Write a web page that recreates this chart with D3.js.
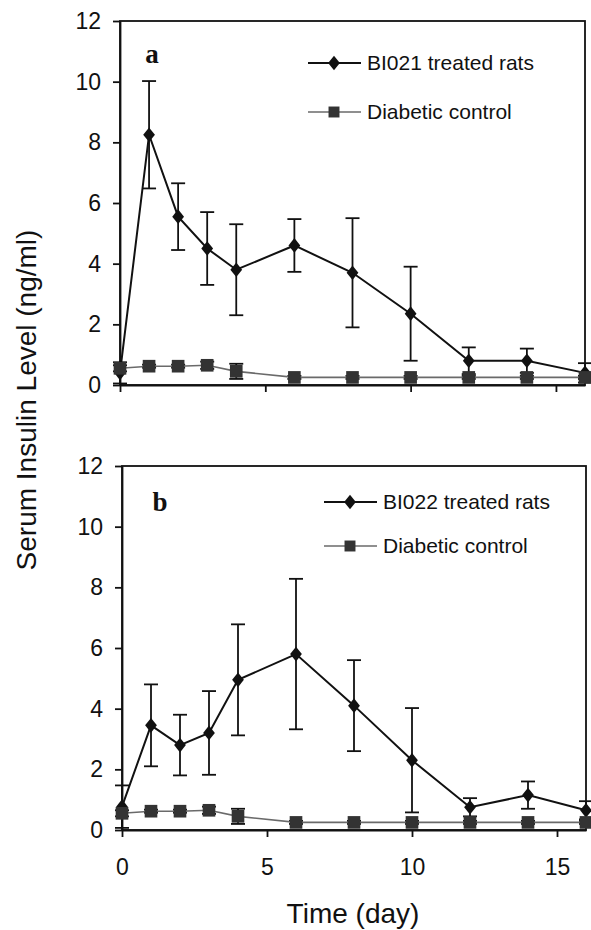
<!DOCTYPE html>
<meta charset="utf-8">
<style>
body { margin: 0; background: #fff; }
text { font-family: "Liberation Sans", Arial, sans-serif; fill: #111; }
.axis path, .axis line { stroke: #111; stroke-width: 1.8; }
.axis text { font-size: 23px; }
</style>
<head>
  <script src="https://d3js.org/d3.v7.min.js"></script>
</head>
<svg width="591" height="930"></svg>
<script>

// days sampled
var days = [0, 1, 2, 3, 4, 6, 8, 10, 12, 14, 16];

// panel a
var bi021Mean = [0.4, 8.25, 5.55, 4.5, 3.8, 4.6, 3.7, 2.35, 0.8, 0.8, 0.4];
var bi021Err  = [0.35, 1.77, 1.1, 1.2, 1.5, 0.87, 1.8, 1.55, 0.44, 0.4, 0.32];
var ctrlAMean = [0.55, 0.62, 0.62, 0.65, 0.45, 0.25, 0.25, 0.25, 0.25, 0.25, 0.25];
var ctrlAErr  = [0.1, 0.05, 0.05, 0.12, 0.25, 0.05, 0.05, 0.05, 0.05, 0.05, 0.05];

// panel b
var bi022Mean = [0.77, 3.45, 2.8, 3.2, 4.95, 5.8, 4.1, 2.3, 0.75, 1.15, 0.65];
var bi022Err  = [0.7, 1.35, 1.0, 1.38, 1.83, 2.48, 1.5, 1.72, 0.3, 0.45, 0.3];
var ctrlBMean = [0.55, 0.62, 0.62, 0.65, 0.45, 0.25, 0.25, 0.25, 0.25, 0.25, 0.25];
var ctrlBErr  = [0.1, 0.05, 0.05, 0.12, 0.25, 0.05, 0.05, 0.05, 0.05, 0.05, 0.05];

var yTicks = [0, 2, 4, 6, 8, 10, 12];
var xTicks = [0, 5, 10, 15];

var svg = d3.select("svg");

// diamond a bit wider than d3's default
var diamondType = {
  draw: function(ctx, size) {
    var h = Math.sqrt(size) * 0.6, w = h * 0.8;
    ctx.moveTo(0, -h); ctx.lineTo(w, 0); ctx.lineTo(0, h); ctx.lineTo(-w, 0); ctx.closePath();
  }
};

function panel(cfg) {
  var x = d3.scaleLinear().domain([0, 16]).range([cfg.left, cfg.right]);
  var y = d3.scaleLinear().domain([0, 12]).range([cfg.bottom, cfg.top]);

  var g = svg.append("g");

  g.append("rect")
      .attr("x", cfg.left).attr("y", cfg.top)
      .attr("width", cfg.right - cfg.left).attr("height", cfg.bottom - cfg.top)
      .attr("fill", "none").attr("stroke", "#111").attr("stroke-width", 1.8);

  g.append("g")
      .attr("class", "axis")
      .attr("transform", "translate(" + cfg.left + ",0)")
      .call(d3.axisLeft(y).tickValues(yTicks).tickSize(7).tickSizeOuter(0).tickPadding(12));

  var xa = d3.axisBottom(x).tickValues(xTicks).tickSize(7).tickSizeOuter(0).tickPadding(22);
  if (!cfg.xLabels) xa.tickFormat("");
  g.append("g")
      .attr("class", "axis")
      .attr("transform", "translate(0," + cfg.bottom + ")")
      .call(xa);

  var series = [
    {mean: cfg.treatMean, err: cfg.treatErr, line: "#111", lw: 2, fill: "#111", sym: diamondType, size: 150},
    {mean: cfg.ctrlMean, err: cfg.ctrlErr, line: "#6a6a6a", lw: 1.6, fill: "#333", sym: d3.symbolSquare, size: 160}
  ];

  series.forEach(function(s) {
    var pts = days.map(function(d, i) { return {x: d, v: s.mean[i], e: s.err[i]}; });

    var eb = g.append("g").attr("stroke", "#111").attr("stroke-width", 1.8);
    pts.forEach(function(p) {
      eb.append("line").attr("x1", x(p.x)).attr("x2", x(p.x))
        .attr("y1", y(p.v - p.e)).attr("y2", y(p.v + p.e));
      [p.v - p.e, p.v + p.e].forEach(function(v) {
        eb.append("line").attr("x1", x(p.x) - 7).attr("x2", x(p.x) + 7)
          .attr("y1", y(v)).attr("y2", y(v));
      });
    });

    g.append("path")
        .datum(pts)
        .attr("fill", "none")
        .attr("stroke", s.line)
        .attr("stroke-width", s.lw)
        .attr("d", d3.line().x(function(d) { return x(d.x); }).y(function(d) { return y(d.v); }));

    g.selectAll(null)
        .data(pts)
        .enter().append("path")
        .attr("transform", function(d) { return "translate(" + x(d.x) + "," + y(d.v) + ")"; })
        .attr("d", d3.symbol().type(s.sym).size(s.size))
        .attr("fill", s.fill);
  });

  // panel letter
  g.append("text")
      .attr("x", cfg.letterX).attr("y", cfg.letterY)
      .attr("text-anchor", "middle")
      .style("font-family", "'Liberation Serif', 'Times New Roman', serif")
      .style("font-weight", "bold")
      .style("font-size", "27px")
      .text(cfg.letter);

  // legend
  var lg = g.append("g").attr("transform", "translate(" + cfg.legX + "," + cfg.legY + ")");
  lg.append("line").attr("x1", 0).attr("x2", 53).attr("y1", 0).attr("y2", 0)
      .attr("stroke", "#111").attr("stroke-width", 2);
  lg.append("path").attr("transform", "translate(26,0)")
      .attr("d", d3.symbol().type(diamondType).size(150)).attr("fill", "#111");
  lg.append("text").attr("x", 59).attr("y", 0).attr("dy", "0.35em")
      .style("font-size", "21px").text(cfg.treatName);

  lg.append("line").attr("x1", 0).attr("x2", 53).attr("y1", cfg.legGap).attr("y2", cfg.legGap)
      .attr("stroke", "#6a6a6a").attr("stroke-width", 1.6);
  lg.append("path").attr("transform", "translate(26," + cfg.legGap + ")")
      .attr("d", d3.symbol().type(d3.symbolSquare).size(120)).attr("fill", "#333");
  lg.append("text").attr("x", 59).attr("y", cfg.legGap).attr("dy", "0.35em")
      .style("font-size", "21px").text("Diabetic control");
}

panel({
  left: 120, right: 585, top: 21, bottom: 385, xLabels: false,
  treatMean: bi021Mean, treatErr: bi021Err, ctrlMean: ctrlAMean, ctrlErr: ctrlAErr,
  letter: "a", letterX: 152, letterY: 63,
  legX: 308, legY: 63, legGap: 49, treatName: "BI021 treated rats"
});

panel({
  left: 122, right: 586, top: 466, bottom: 830, xLabels: true,
  treatMean: bi022Mean, treatErr: bi022Err, ctrlMean: ctrlBMean, ctrlErr: ctrlBErr,
  letter: "b", letterX: 160, letterY: 511,
  legX: 324, legY: 502, legGap: 44, treatName: "BI022 treated rats"
});

svg.append("text")
    .attr("transform", "translate(36,400) rotate(-90)")
    .attr("text-anchor", "middle")
    .style("font-size", "28px")
    .text("Serum Insulin Level (ng/ml)");

svg.append("text")
    .attr("x", 353).attr("y", 923)
    .attr("text-anchor", "middle")
    .style("font-size", "28px")
    .text("Time (day)");

</script>
